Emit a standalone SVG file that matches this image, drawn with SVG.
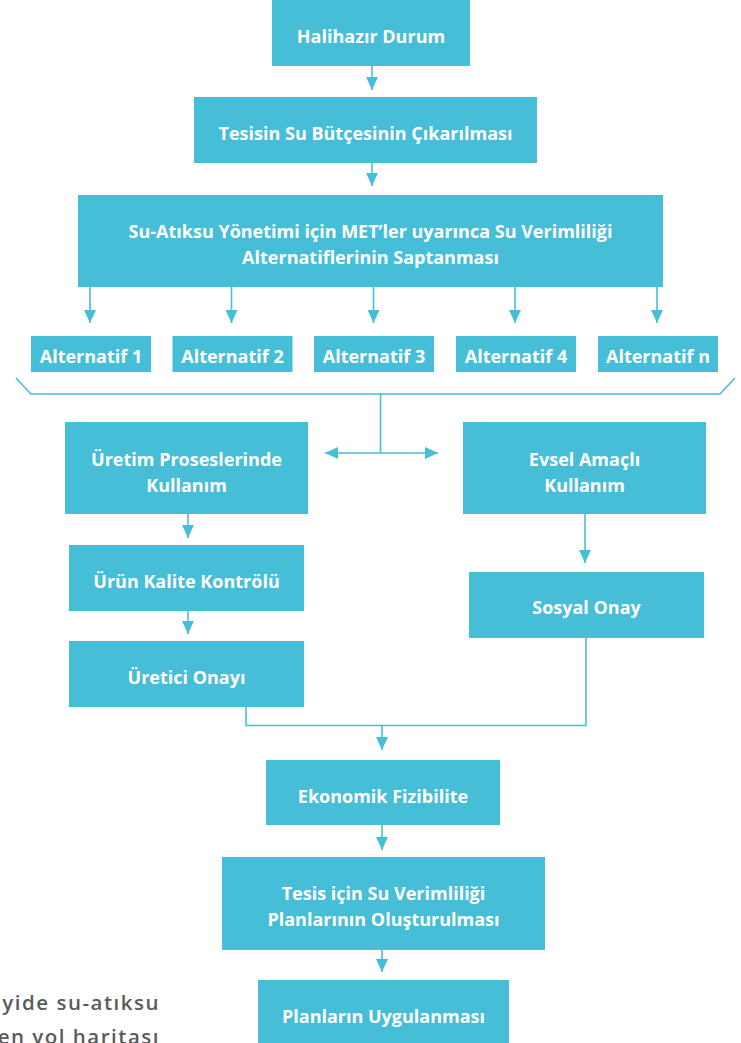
<svg xmlns="http://www.w3.org/2000/svg" width="741" height="1043" viewBox="0 0 741 1043">
<style>
.box{fill:#46BED8;}
.t{font-family:"Open Sans","DejaVu Sans",sans-serif;font-weight:700;font-size:18px;fill:#ffffff;text-anchor:middle;}
.c{fill:none;stroke:#46BED8;stroke-width:1.6;}
.cap{font-family:"Open Sans","DejaVu Sans",sans-serif;font-weight:600;font-size:20.5px;fill:#5a5a5a;letter-spacing:1.5px;text-anchor:end;}
</style>
<defs>
<marker id="ah" markerUnits="userSpaceOnUse" markerWidth="14" markerHeight="12" refX="13" refY="6" orient="auto-start-reverse">
<path d="M0,0 L13,6 L0,12 z" fill="#46BED8"/>
</marker>
</defs>
<rect width="741" height="1043" fill="#ffffff"/>
<g id="connectors">
<line class="c" x1="372" y1="66" x2="372" y2="90" marker-end="url(#ah)"/>
<line class="c" x1="372" y1="163" x2="372" y2="186" marker-end="url(#ah)"/>
<line class="c" x1="90" y1="287" x2="90" y2="323" marker-end="url(#ah)"/>
<line class="c" x1="231.5" y1="287" x2="231.5" y2="323" marker-end="url(#ah)"/>
<line class="c" x1="373.5" y1="287" x2="373.5" y2="323" marker-end="url(#ah)"/>
<line class="c" x1="515" y1="287" x2="515" y2="323" marker-end="url(#ah)"/>
<line class="c" x1="657" y1="287" x2="657" y2="323" marker-end="url(#ah)"/>
<polyline class="c" points="16,378 31,394 720,394 735,378"/>
<line class="c" x1="380.5" y1="394" x2="380.5" y2="453"/>
<line class="c" x1="325" y1="453" x2="438" y2="453" marker-start="url(#ah)" marker-end="url(#ah)"/>
<line class="c" x1="188" y1="514" x2="188" y2="538" marker-end="url(#ah)"/>
<line class="c" x1="188" y1="611" x2="188" y2="634" marker-end="url(#ah)"/>
<line class="c" x1="585" y1="514" x2="585" y2="563" marker-end="url(#ah)"/>
<polyline class="c" points="246,707 246,725.5 586,725.5 586,638"/>
<line class="c" x1="382" y1="725.5" x2="382" y2="750" marker-end="url(#ah)"/>
<line class="c" x1="382" y1="825" x2="382" y2="850" marker-end="url(#ah)"/>
<line class="c" x1="382" y1="950" x2="382" y2="972" marker-end="url(#ah)"/>
</g>
<g id="n-halihazir"><rect class="box" x="272" y="0" width="198" height="66"/><text class="t" x="371" y="43">Halihazır Durum</text></g>
<g id="n-butce"><rect class="box" x="194" y="97" width="343" height="66"/><text class="t" x="365.5" y="140">Tesisin Su Bütçesinin Çıkarılması</text></g>
<g id="n-alternatifler"><rect class="box" x="78" y="195" width="585" height="92"/><text class="t" x="370.5" y="238">Su-Atıksu Yönetimi için MET’ler uyarınca Su Verimliliği</text><text class="t" x="370.5" y="264">Alternatiflerinin Saptanması</text></g>
<g id="n-alt1"><rect class="box" x="31" y="336" width="120" height="36"/><text class="t" x="91" y="363">Alternatif 1</text></g>
<g id="n-alt2"><rect class="box" x="172.5" y="336" width="120" height="36"/><text class="t" x="232.5" y="363">Alternatif 2</text></g>
<g id="n-alt3"><rect class="box" x="314" y="336" width="120" height="36"/><text class="t" x="374" y="363">Alternatif 3</text></g>
<g id="n-alt4"><rect class="box" x="456" y="336" width="120" height="36"/><text class="t" x="516" y="363">Alternatif 4</text></g>
<g id="n-altn"><rect class="box" x="598" y="336" width="120" height="36"/><text class="t" x="658" y="363">Alternatif n</text></g>
<g id="n-uretim"><rect class="box" x="65" y="422" width="243" height="92"/><text class="t" x="186.5" y="466">Üretim Proseslerinde</text><text class="t" x="186.5" y="492">Kullanım</text></g>
<g id="n-evsel"><rect class="box" x="463" y="422" width="243" height="92"/><text class="t" x="584.5" y="466">Evsel Amaçlı</text><text class="t" x="584.5" y="492">Kullanım</text></g>
<g id="n-urun"><rect class="box" x="69" y="545" width="235" height="66"/><text class="t" x="186.5" y="588">Ürün Kalite Kontrölü</text></g>
<g id="n-uretici"><rect class="box" x="69" y="641" width="235" height="66"/><text class="t" x="186.5" y="684">Üretici Onayı</text></g>
<g id="n-sosyal"><rect class="box" x="469" y="572" width="235" height="66"/><text class="t" x="586.5" y="614">Sosyal Onay</text></g>
<g id="n-ekonomik"><rect class="box" x="266" y="760" width="234" height="65"/><text class="t" x="383" y="803">Ekonomik Fizibilite</text></g>
<g id="n-plan"><rect class="box" x="222" y="857" width="323" height="93"/><text class="t" x="383.5" y="900">Tesis için Su Verimliliği</text><text class="t" x="383.5" y="926">Planlarının Oluşturulması</text></g>
<g id="n-uygulama"><rect class="box" x="258" y="980" width="251" height="70"/><text class="t" x="383.5" y="1023">Planların Uygulanması</text></g>
<g id="caption"><text class="cap" x="160" y="1009.5">yide su-atıksu</text><text class="cap" x="160" y="1043.5">en yol haritası</text></g>
</svg>
